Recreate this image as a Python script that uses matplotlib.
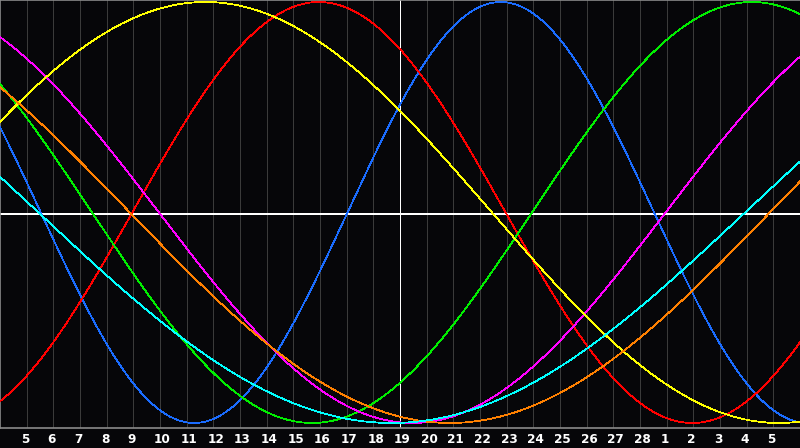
import numpy as np
import matplotlib
matplotlib.use("Agg")
import matplotlib.pyplot as plt

# Day labels at gridlines 1..29
day_labels = [str(d) for d in list(range(5, 29)) + list(range(1, 6))]
n_days = 30

# Cycle series: period (days) and day of peak (offset from left edge, in days)
names   = ["physical", "emotional", "intellectual", "intuitive", "aesthetic", "awareness", "spiritual"]
periods = [23, 28, 33, 38, 43, 48, 53]
peak_day = [18.78, 11.96, 28.2, -3.54, 7.70, -7.13, -11.81]
colors  = ["#1a6cff", "#ff0000", "#00ee00", "#ff00ff", "#ffff00", "#ff8000", "#00ffff"]

bg = "#060609"
fig = plt.figure(figsize=(8, 4.48), dpi=100, facecolor=bg)
ax = fig.add_axes([0, 20 / 448, 1, 428 / 448], facecolor=bg)

ax.set_xlim(0, n_days)
ax.set_ylim(-1.0238, 1.0095)

px = 0.72  # one pixel in points
for k in range(1, n_days):
    ax.axvline(k, color="#3a3a3a", lw=px, zorder=1, antialiased=False)

ax.axvline(15, color="white", lw=px, zorder=2, antialiased=False)
ax.axhline(-0.007, color="white", lw=1.3, zorder=2, antialiased=False)

t = np.linspace(0, n_days, 1601)
for P, tp, c in zip(periods, peak_day, colors):
    ax.plot(t, np.cos(2 * np.pi * (t - tp) / P), color=c, lw=0.55, zorder=3,
            antialiased=False)

ax.set_xticks([])
ax.set_yticks([])
for s in ["top", "left", "bottom"]:
    ax.spines[s].set_color("#8a8a8a")
    ax.spines[s].set_linewidth(1.2)
ax.spines["right"].set_visible(False)

label_y = -(439 - 428) / 428
for i, lab in enumerate(day_labels):
    k = i + 1
    ax.text(k - 0.22, label_y, lab, transform=ax.get_xaxis_transform(),
            color="white", fontsize=8.7, fontweight="bold", family="DejaVu Sans",
            ha="left", va="center", clip_on=False)

fig.savefig("out.png", dpi=100, facecolor=bg)
